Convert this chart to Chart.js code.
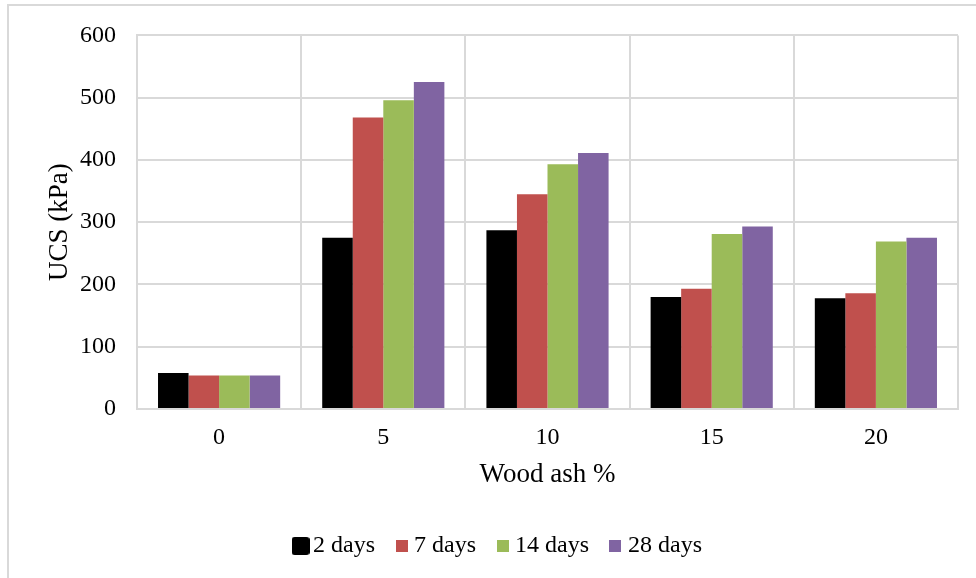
<!DOCTYPE html>
<html>
<head>
<meta charset="utf-8">
<script src="https://cdn.jsdelivr.net/npm/chart.js"></script>
<style>
  html, body { margin: 0; padding: 0; background: #ffffff; }
  #wrap { position: relative; width: 976px; height: 578px; overflow: hidden; }
  #frame { position: absolute; left: 7px; top: 4px; width: 1000px; height: 600px;
           border-left: 2px solid #d9d9d9; border-top: 2px solid #d9d9d9; box-sizing: border-box; }
  #c { position: absolute; left: 0; top: 0; }
</style>
</head>
<body>
<div id="wrap">
  <div id="frame"></div>
  <canvas id="c" width="976" height="578"></canvas>
</div>
<script>
const categories = ['0', '5', '10', '15', '20'];
const seriesNames = ['2 days', '7 days', '14 days', '28 days'];
const days2  = [58, 275, 287, 180, 178];
const days7  = [54, 468, 345, 193, 186];
const days14 = [54, 496, 393, 281, 269];
const days28 = [54, 525, 411, 293, 275];
const yTicks = [0, 100, 200, 300, 400, 500, 600];
const colors = ['#000000', '#C0504D', '#9BBB59', '#8064A2'];

const FONT = "'Liberation Serif', 'Times New Roman', serif";
const seriesValues = [days2, days7, days14, days28];

Chart.defaults.font.family = FONT;
Chart.defaults.color = '#000000';

// legend swatches (black one drawn larger with rounded outline, as in the original)
function makeSwatch(color, big) {
  const size = big ? 18 : 12;
  const cv = document.createElement('canvas');
  cv.width = size; cv.height = size;
  const g = cv.getContext('2d');
  g.fillStyle = color;
  if (big) {
    g.beginPath();
    const r = 3;
    g.moveTo(r, 0); g.lineTo(size - r, 0); g.quadraticCurveTo(size, 0, size, r);
    g.lineTo(size, size - r); g.quadraticCurveTo(size, size, size - r, size);
    g.lineTo(r, size); g.quadraticCurveTo(0, size, 0, size - r);
    g.lineTo(0, r); g.quadraticCurveTo(0, 0, r, 0);
    g.fill();
  } else {
    g.fillRect(0, 0, size, size);
  }
  return cv;
}
const swatches = colors.map((c, i) => makeSwatch(c, i === 0));

new Chart(document.getElementById('c'), {
  type: 'bar',
  data: {
    labels: categories,
    datasets: seriesValues.map((vals, i) => ({
      label: seriesNames[i],
      data: vals,
      backgroundColor: colors[i],
      borderColor: colors[i],
      borderWidth: 0,
      categoryPercentage: 0.744,
      barPercentage: 1.0
    }))
  },
  options: {
    responsive: false,
    animation: false,
    layout: { padding: { left: 44, right: 18, top: 34, bottom: 10 } },
    plugins: {
      tooltip: { enabled: false },
      legend: {
        position: 'bottom',
        labels: {
          font: { size: 24, family: FONT },
          color: '#000000',
          usePointStyle: true,
          boxWidth: 1,
          boxHeight: 12,
          padding: 26,
          generateLabels(chart) {
            const items = Chart.defaults.plugins.legend.labels.generateLabels(chart);
            items.forEach((it, i) => {
              it.pointStyle = swatches[i];
              it.lineWidth = 0;
            });
            return items;
          }
        }
      }
    },
    scales: {
      x: {
        grid: { color: '#d9d9d9', lineWidth: 2, drawTicks: false, offset: true },
        border: { color: '#d9d9d9', width: 2 },
        ticks: { font: { size: 24, family: FONT }, color: '#000000', padding: 14 },
        title: { display: true, text: 'Wood ash %', font: { size: 27, family: FONT }, color: '#000000', padding: { top: 0, bottom: 16.8 } },
        afterFit(scale) { scale.height = 99; }
      },
      y: {
        min: 0,
        max: 600,
        afterBuildTicks(scale) { scale.ticks = yTicks.map(v => ({ value: v })); },
        grid: { color: '#d9d9d9', lineWidth: 2, drawTicks: false },
        border: { color: '#d9d9d9', width: 2 },
        ticks: { font: { size: 24, family: FONT }, color: '#000000', padding: 21 },
        title: { display: true, text: 'UCS (kPa)', font: { size: 27, family: FONT }, color: '#000000', padding: { top: 0, bottom: 0 } },
        afterFit(scale) { scale.width = 93; }
      }
    }
  }
});
</script>
</body>
</html>
